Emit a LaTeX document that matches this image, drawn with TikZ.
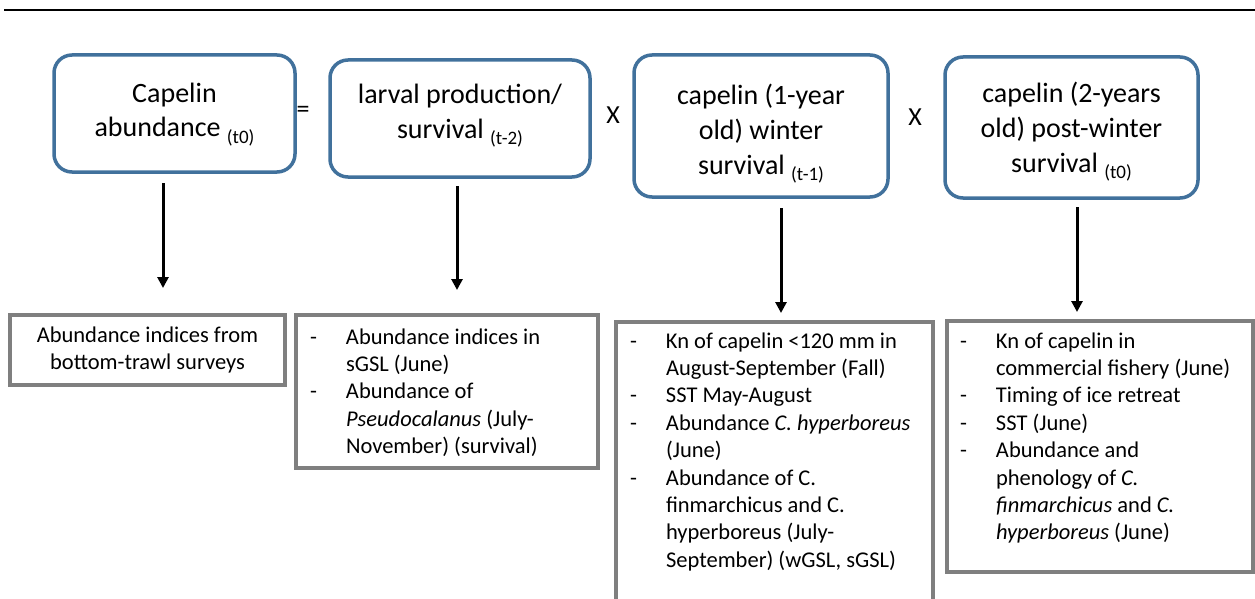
\documentclass[tikz,border=0pt]{standalone}
\usepackage{fontspec}
\setmainfont{Carlito}
\usepackage{tikz}
\usepackage{xcolor}
\usetikzlibrary{arrows.meta}
\definecolor{stageblue}{HTML}{41719C}
\definecolor{boxgray}{HTML}{7F7F7F}
\newcommand{\topfont}{\fontsize{28}{35}\selectfont}
\newcommand{\listfont}{\fontsize{22.5}{27.4}\selectfont}
\newcommand{\tsub}[1]{\raisebox{-6pt}{\fontsize{19}{19}\selectfont #1}}
\newcommand{\padtop}[1]{\rule{0pt}{#1}}
\newcommand{\padbot}[1]{\rule[-#1]{0pt}{#1}}
\newcommand{\dashline}[1]{\mbox{\makebox[36pt][l]{-}#1}}
\newcommand{\moreline}[1]{\mbox{\hspace*{36pt}#1}}
\tikzset{stage node/.style={rectangle,rounded corners=18pt,draw=stageblue,line width=3.5pt,inner sep=0pt,outer sep=0pt,align=center,font=\topfont},
  index node/.style={rectangle,draw=boxgray,line width=4pt,inner xsep=14pt,outer sep=0pt,anchor=north west,font=\listfont,align=left},
  op node/.style={font=\fontsize{26}{26}\selectfont,inner sep=0pt},
  down arrow/.style={-{Triangle[width=11pt,length=11pt]},line width=3pt},}

\begin{document}
\begin{tikzpicture}[x=1pt,y=-1pt]
\useasboundingbox (0,0) rectangle (1255,599);
\clip (0,0) rectangle (1255,599);

\draw[line width=2.5pt] (4,10) -- (1255,10);

% model terms
\node[stage node,minimum width=241pt,minimum height=117pt] (abund) at (174.5,113.5) {\strut Capelin\\abundance \tsub{(t0)}\padbot{12.5pt}};
\node[op node] (eq) at (303,112) {=};
\node[stage node,minimum width=260pt,minimum height=117pt] (larval) at (460,118.5) {\strut larval production/\\survival \tsub{(t-2)}\padbot{18.5pt}};
\node[op node] (x1) at (613,115) {X};
\node[stage node,minimum width=254pt,minimum height=142pt] (winter) at (761,126) {\padtop{37.5pt}capelin (1-year\\old) winter\\survival \tsub{(t-1)}\strut};
\node[op node] (x2) at (915,117) {X};
\node[stage node,minimum width=253pt,minimum height=141pt] (postwinter) at (1071.5,127.5) {\padtop{29.5pt}capelin (2-years\\old) post-winter\\survival \tsub{(t0)}\strut};

% indices
\node[index node,anchor=center,align=center,inner sep=0pt,minimum width=275pt,minimum height=70pt] (trawl) at (147.5,350) {Abundance indices from\\bottom-trawl surveys};
\node[index node,inner ysep=10pt] (larvalind) at (296,315) {\parbox[t][133pt][t]{274pt}{\strut\dashline{Abundance indices in}\\
  \moreline{sGSL (June)}\\
  \dashline{Abundance of}\\
  \moreline{\textit{Pseudocalanus} (July-}\\
  \moreline{November) (survival)}}};
\node[index node,inner ysep=7pt] (winterind) at (616,322) {\parbox[t][290pt][t]{289pt}{\strut\dashline{Kn of capelin <120 mm in}\\
  \moreline{August-September (Fall)}\\
  \dashline{SST May-August}\\
  \dashline{Abundance \textit{C. hyperboreus}}\\
  \moreline{(June)}\\
  \dashline{Abundance of C.}\\
  \moreline{finmarchicus and C.}\\
  \moreline{hyperboreus (July-}\\
  \moreline{September) (wGSL, sGSL)}}};
\node[index node,inner xsep=13pt,inner ysep=8pt] (postind) at (947,321) {\parbox[t][235pt][t]{280pt}{\strut\dashline{Kn of capelin in}\\
  \moreline{commercial fishery (June)}\\
  \dashline{Timing of ice retreat}\\
  \dashline{SST (June)}\\
  \dashline{Abundance and}\\
  \moreline{phenology of \textit{C.}}\\
  \moreline{\textit{finmarchicus} and \textit{C.}}\\
  \moreline{\textit{hyperboreus} (June)}}};

% arrows
\draw[down arrow] ([xshift=-11.5pt,yshift=-11pt]abund.south) -- ([xshift=15.5pt,yshift=27pt]trawl.north);
\draw[down arrow] ([xshift=-3pt,yshift=-9pt]larval.south) -- ([xshift=10pt,yshift=25pt]larvalind.north);
\draw[down arrow] ([xshift=20pt,yshift=-11pt]winter.south) -- ([xshift=6.5pt,yshift=9pt]winterind.north);
\draw[down arrow] ([xshift=5.5pt,yshift=-9pt]postwinter.south) -- ([xshift=-23pt,yshift=9pt]postind.north);
\end{tikzpicture}
\end{document}
